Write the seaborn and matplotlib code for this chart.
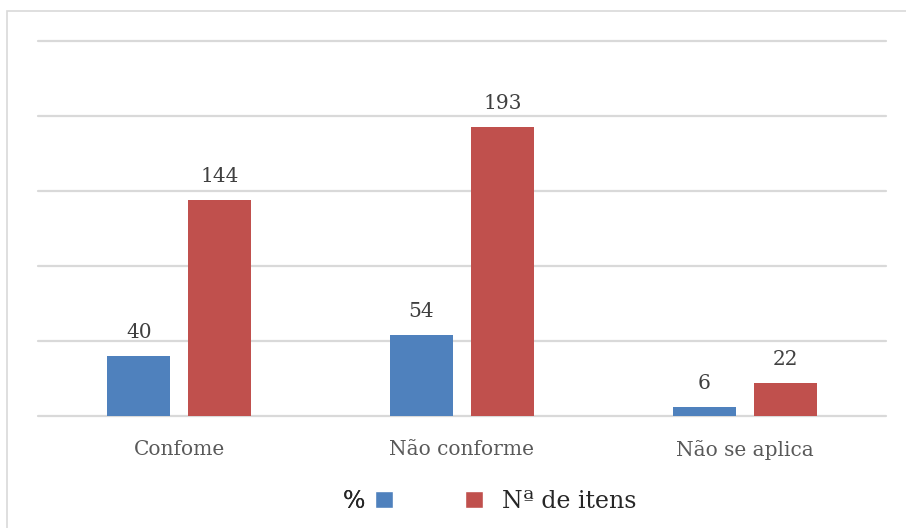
import matplotlib
matplotlib.use("Agg")
import matplotlib.pyplot as plt
from matplotlib.patches import Rectangle, Patch
import seaborn as sns
import pandas as pd

categories = ["Confome", "Não conforme", "Não se aplica"]
series_names = ["%", "Nª de itens"]
pct_values = [40, 54, 6]
count_values = [144, 193, 22]
colors = ["#4f81bd", "#c0504d"]

df = pd.DataFrame({
    "categoria": categories * 2,
    "serie": [series_names[0]] * 3 + [series_names[1]] * 3,
    "valor": pct_values + count_values,
})

sns.set_theme(style="white")
plt.rcParams["font.family"] = ["DejaVu Serif"]

fig = plt.figure(figsize=(9.06, 5.28), dpi=100)
ax = fig.add_axes([38 / 906, 1 - 416 / 528, 848 / 906, 375 / 528])

sns.barplot(data=df, x="categoria", y="valor", hue="serie", palette=colors,
            width=0.573, gap=0.22, ax=ax, legend=False, saturation=1,
            edgecolor="none")

ax.set_ylim(0, 250)
ax.set_xlim(-0.5, 2.5)
ax.set_yticks([0, 50, 100, 150, 200, 250])
ax.yaxis.grid(True, color="#d9d9d9", linewidth=1.6)
for gl in ax.get_ygridlines():
    gl.set_clip_on(False)
ax.set_axisbelow(True)
ax.tick_params(axis="y", left=False, labelleft=False)
ax.tick_params(axis="x", bottom=False, labelsize=14.5, labelcolor="#595959", pad=11)
ax.set_xlabel("")
ax.set_ylabel("")
for s in ax.spines.values():
    s.set_visible(False)

for cont in ax.containers:
    ax.bar_label(cont, padding=10, fontsize=14.5, color="#404040")

# outer chart frame (left and top edges visible)
fig.patches.append(Rectangle((7 / 906, -0.1), 1.1, 1 - 11 / 528 + 0.1,
                             transform=fig.transFigure, fill=False,
                             edgecolor="#d9d9d9", linewidth=1.2))

# legend: label before the first key, after the second
h1 = Patch(facecolor=colors[0])
h2 = Patch(facecolor=colors[1])
leg1 = fig.legend([h1], [series_names[0]], loc="center", bbox_to_anchor=(368 / 906, 1 - 501 / 528),
                  frameon=False, markerfirst=False, fontsize=17, handlelength=0.75,
                  handleheight=0.75, handletextpad=0.4)
leg2 = fig.legend([h2], [series_names[1]], loc="center", bbox_to_anchor=(551 / 906, 1 - 501 / 528),
                  frameon=False, fontsize=17, handlelength=0.75,
                  handleheight=0.75, handletextpad=0.8)
fig.add_artist(leg1)

fig.savefig("out.png", dpi=100)
